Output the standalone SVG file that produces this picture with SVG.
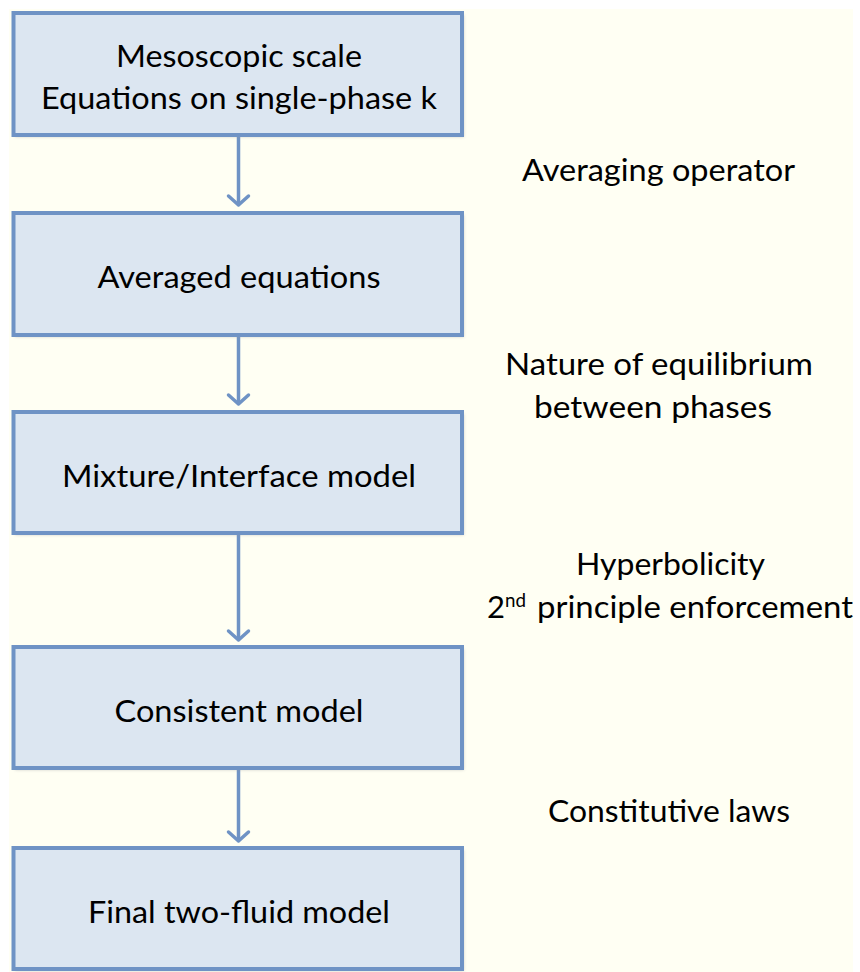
<svg xmlns="http://www.w3.org/2000/svg" width="860" height="972" viewBox="0 0 860 972">
  <defs>
    <style>
      .box { fill: #DCE6F1; stroke: #6F93C5; stroke-width: 4; }
      .shadow { fill: #9a9a9a; opacity: 0.45; filter: url(#blur); }
      .lbl { font-family: Lato, "Open Sans", "Liberation Sans", sans-serif; font-size: 31px; fill: #000000; }
      .mid { text-anchor: middle; }
      .conn { stroke: #6F93C5; stroke-width: 3.5; fill: none; }
    </style>
    <filter id="blur" x="-5%" y="-5%" width="110%" height="110%">
      <feGaussianBlur stdDeviation="1.5"/>
    </filter>
    <marker id="chev" markerUnits="userSpaceOnUse" markerWidth="24" markerHeight="16" viewBox="-12 -13 24 16" refX="0" refY="0" orient="auto-start-reverse" overflow="visible">
      <path d="M -10 -9 L 0 0 L 10 -9" fill="none" stroke="#6F93C5" stroke-width="3.5" stroke-linecap="round" stroke-linejoin="round" transform="rotate(-90)"/>
    </marker>
  </defs>

  <rect x="0" y="0" width="860" height="972" fill="#FFFFFF"/>
  <rect x="9" y="9" width="844" height="963" fill="#FFFFF3"/>

  <g id="connectors">
    <line class="conn" x1="238.5" y1="137" x2="238.5" y2="205" marker-end="url(#chev)"/>
    <line class="conn" x1="238.5" y1="337" x2="238.5" y2="404" marker-end="url(#chev)"/>
    <line class="conn" x1="238.5" y1="535" x2="238.5" y2="640" marker-end="url(#chev)"/>
    <line class="conn" x1="238.5" y1="770" x2="238.5" y2="841" marker-end="url(#chev)"/>
  </g>

  <g id="node-mesoscopic">
    <rect class="shadow" x="15" y="15" width="449" height="122"/>
    <rect class="box" x="13.5" y="13" width="448.5" height="122"/>
    <text class="lbl mid" x="239" y="67" textLength="246" lengthAdjust="spacingAndGlyphs">Mesoscopic scale</text>
    <text class="lbl mid" x="239" y="109" textLength="396" lengthAdjust="spacingAndGlyphs">Equations on single-phase k</text>
  </g>

  <g id="node-averaged">
    <rect class="shadow" x="15" y="215" width="449" height="122"/>
    <rect class="box" x="13.5" y="213" width="448.5" height="122"/>
    <text class="lbl mid" x="239" y="288" textLength="283" lengthAdjust="spacingAndGlyphs">Averaged equations</text>
  </g>

  <g id="node-mixture">
    <rect class="shadow" x="15" y="414" width="449" height="121"/>
    <rect class="box" x="13.5" y="412" width="448.5" height="121"/>
    <text class="lbl mid" x="239" y="486.5" textLength="354" lengthAdjust="spacingAndGlyphs">Mixture/Interface model</text>
  </g>

  <g id="node-consistent">
    <rect class="shadow" x="15" y="649" width="449" height="121"/>
    <rect class="box" x="13.5" y="647" width="448.5" height="121"/>
    <text class="lbl mid" x="239" y="721.5" textLength="249" lengthAdjust="spacingAndGlyphs">Consistent model</text>
  </g>

  <g id="node-final">
    <rect class="shadow" x="15" y="850" width="449" height="121"/>
    <rect class="box" x="13.5" y="848" width="448.5" height="121"/>
    <text class="lbl mid" x="239" y="922.5" textLength="302" lengthAdjust="spacingAndGlyphs">Final two-fluid model</text>
  </g>

  <g id="edge-labels">
    <text class="lbl mid" x="658.5" y="181" textLength="273" lengthAdjust="spacingAndGlyphs">Averaging operator</text>
    <text class="lbl mid" x="659" y="375" textLength="308" lengthAdjust="spacingAndGlyphs">Nature of equilibrium</text>
    <text class="lbl mid" x="653" y="418" textLength="238" lengthAdjust="spacingAndGlyphs">between phases</text>
    <text class="lbl mid" x="670.5" y="575" textLength="189" lengthAdjust="spacingAndGlyphs">Hyperbolicity</text>
    <text class="lbl" x="487" y="618">2</text>
    <text class="lbl" x="505" y="607" style="font-size:20px" textLength="21" lengthAdjust="spacingAndGlyphs">nd</text>
    <text class="lbl" x="537" y="618" textLength="316" lengthAdjust="spacingAndGlyphs">principle enforcement</text>
    <text class="lbl mid" x="669" y="822" textLength="242" lengthAdjust="spacingAndGlyphs">Constitutive laws</text>
  </g>
</svg>
